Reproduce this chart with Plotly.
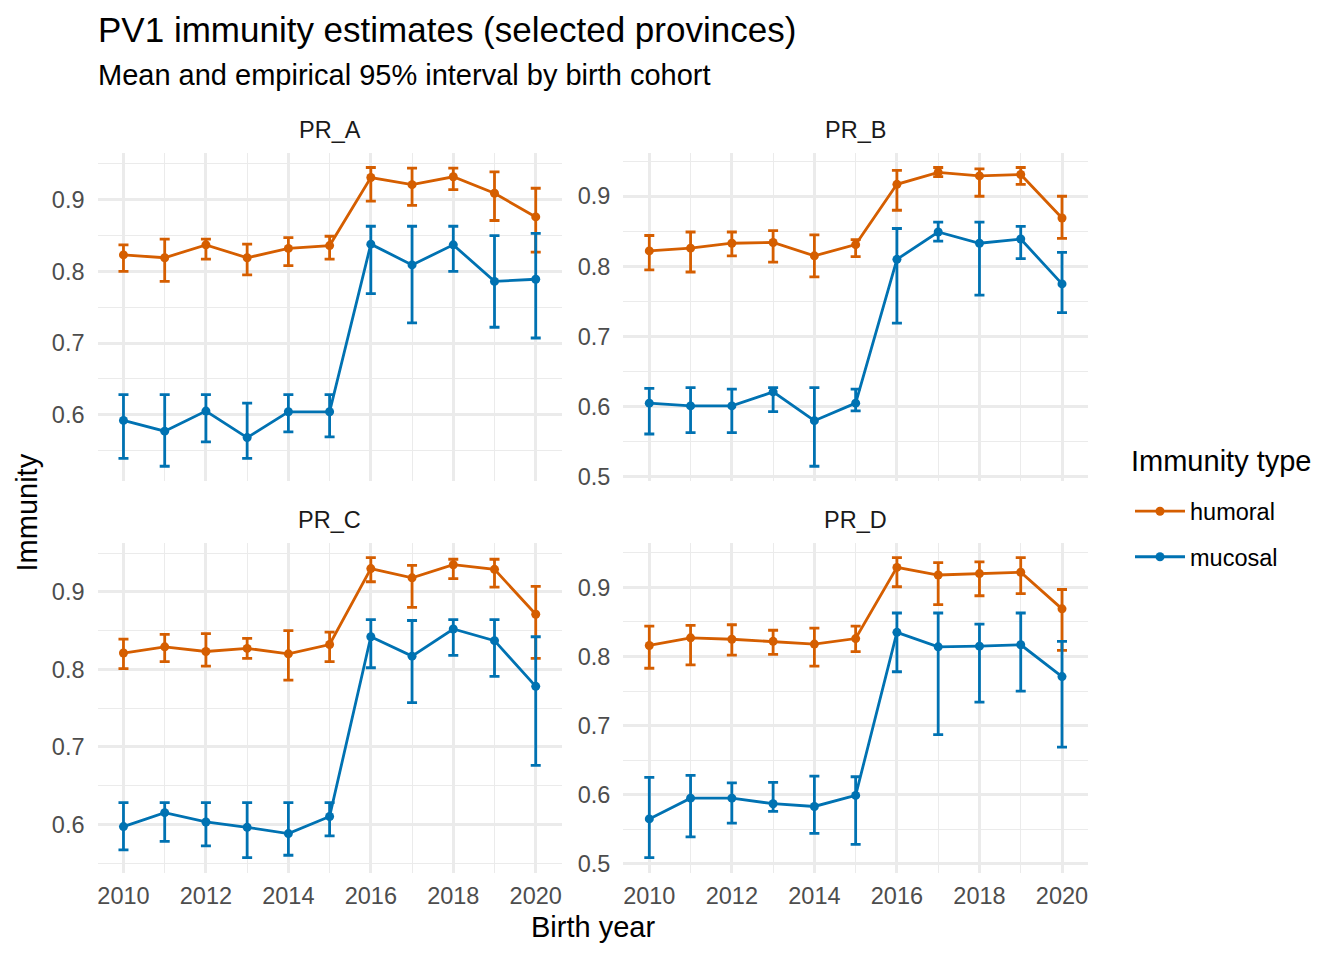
import plotly.graph_objects as go

# birth cohorts shared by all panels
years = [2010, 2011, 2012, 2013, 2014, 2015, 2016, 2017, 2018, 2019, 2020]
provinces = ["PR_A", "PR_B", "PR_C", "PR_D"]
types = ["humoral", "mucosal"]

# PR_A
a_hum_mean = [0.823, 0.819, 0.837, 0.819, 0.832, 0.836, 0.931, 0.921, 0.932, 0.909, 0.876]
a_hum_lo = [0.800, 0.786, 0.817, 0.795, 0.808, 0.817, 0.898, 0.892, 0.914, 0.871, 0.827]
a_hum_hi = [0.837, 0.845, 0.845, 0.838, 0.847, 0.849, 0.945, 0.944, 0.944, 0.939, 0.916]
a_muc_mean = [0.592, 0.577, 0.605, 0.568, 0.604, 0.604, 0.838, 0.809, 0.837, 0.786, 0.789]
a_muc_lo = [0.539, 0.528, 0.562, 0.539, 0.576, 0.569, 0.769, 0.728, 0.800, 0.722, 0.707]
a_muc_hi = [0.628, 0.628, 0.628, 0.616, 0.628, 0.628, 0.863, 0.863, 0.863, 0.850, 0.853]

# PR_B
b_hum_mean = [0.822, 0.826, 0.833, 0.834, 0.815, 0.831, 0.917, 0.934, 0.929, 0.931, 0.869]
b_hum_lo = [0.795, 0.792, 0.815, 0.806, 0.785, 0.814, 0.880, 0.928, 0.900, 0.917, 0.840]
b_hum_hi = [0.844, 0.849, 0.849, 0.851, 0.845, 0.838, 0.937, 0.941, 0.939, 0.941, 0.900]
b_muc_mean = [0.605, 0.601, 0.601, 0.621, 0.580, 0.605, 0.810, 0.849, 0.833, 0.839, 0.775]
b_muc_lo = [0.561, 0.563, 0.563, 0.593, 0.515, 0.594, 0.719, 0.836, 0.759, 0.811, 0.734]
b_muc_hi = [0.626, 0.627, 0.625, 0.627, 0.627, 0.625, 0.854, 0.863, 0.863, 0.857, 0.820]

# PR_C
c_hum_mean = [0.821, 0.829, 0.823, 0.827, 0.820, 0.832, 0.930, 0.918, 0.935, 0.929, 0.871]
c_hum_lo = [0.801, 0.810, 0.804, 0.814, 0.786, 0.810, 0.913, 0.880, 0.917, 0.906, 0.814]
c_hum_hi = [0.839, 0.845, 0.846, 0.840, 0.850, 0.848, 0.944, 0.934, 0.942, 0.942, 0.907]
c_muc_mean = [0.597, 0.615, 0.603, 0.596, 0.588, 0.610, 0.842, 0.817, 0.852, 0.837, 0.778]
c_muc_lo = [0.567, 0.578, 0.572, 0.557, 0.560, 0.585, 0.802, 0.757, 0.818, 0.791, 0.676]
c_muc_hi = [0.628, 0.628, 0.628, 0.628, 0.628, 0.628, 0.864, 0.863, 0.864, 0.864, 0.842]

# PR_D
d_hum_mean = [0.816, 0.827, 0.825, 0.822, 0.818, 0.826, 0.929, 0.918, 0.920, 0.922, 0.869]
d_hum_lo = [0.783, 0.788, 0.802, 0.803, 0.786, 0.807, 0.901, 0.875, 0.888, 0.891, 0.809]
d_hum_hi = [0.844, 0.845, 0.846, 0.838, 0.841, 0.844, 0.943, 0.936, 0.937, 0.943, 0.897]
d_muc_mean = [0.565, 0.595, 0.595, 0.587, 0.583, 0.599, 0.835, 0.814, 0.815, 0.817, 0.771]
d_muc_lo = [0.509, 0.539, 0.559, 0.576, 0.544, 0.528, 0.778, 0.687, 0.734, 0.750, 0.669]
d_muc_hi = [0.625, 0.628, 0.617, 0.618, 0.627, 0.626, 0.863, 0.863, 0.847, 0.863, 0.822]

series = {
    "PR_A": {"humoral": (a_hum_mean, a_hum_lo, a_hum_hi), "mucosal": (a_muc_mean, a_muc_lo, a_muc_hi)},
    "PR_B": {"humoral": (b_hum_mean, b_hum_lo, b_hum_hi), "mucosal": (b_muc_mean, b_muc_lo, b_muc_hi)},
    "PR_C": {"humoral": (c_hum_mean, c_hum_lo, c_hum_hi), "mucosal": (c_muc_mean, c_muc_lo, c_muc_hi)},
    "PR_D": {"humoral": (d_hum_mean, d_hum_lo, d_hum_hi), "mucosal": (d_muc_mean, d_muc_lo, d_muc_hi)},
}

colors = {"humoral": "#D55E00", "mucosal": "#0072B2"}

# the capture comes out slightly squeezed vertically, so draw a bit taller
# and place things as fractions of the 960px target height
W, H = 1344, 968
REF_W, REF_H = 1344, 960
FONT = "Liberation Sans, Arial, sans-serif"
GRID = "#EBEBEB"
TICK = "#4D4D4D"


def px(x):
    return x / REF_W


def py(y):
    return 1 - y / REF_H


# panel boxes in target pixels (left, right) / (top, bottom)
col_x = [(97.5, 561.7), (623.3, 1088.0)]
row_y = [(152.7, 481.7), (543.3, 873.5)]

fig = go.Figure()

for i, prov in enumerate(provinces):
    r, c = divmod(i, 2)
    n = i + 1
    xa = "x" if n == 1 else f"x{n}"
    ya = "y" if n == 1 else f"y{n}"
    lows, highs = [], []
    for t in types:
        mean, lo, hi = series[prov][t]
        lows += lo
        highs += hi
        fig.add_trace(go.Scatter(
            x=years, y=mean, mode="lines+markers", name=t,
            legendgroup=t, showlegend=(i == 0),
            line=dict(color=colors[t], width=2.8),
            marker=dict(color=colors[t], size=9),
            error_y=dict(type="data", symmetric=False,
                         array=[h - m for h, m in zip(hi, mean)],
                         arrayminus=[m - l for m, l in zip(mean, lo)],
                         color=colors[t], thickness=2.8, width=5),
            xaxis=xa, yaxis=ya,
        ))

    # free y scale per panel, ggplot-like 5% expansion
    ymin, ymax = min(lows), max(highs)
    pad = 0.05 * (ymax - ymin)
    x0, x1 = col_x[c]
    y0, y1 = row_y[r]
    fig.layout[("xaxis" if n == 1 else f"xaxis{n}")] = dict(
        domain=[px(x0), px(x1)], anchor=ya, range=[2009.37, 2020.63],
        tick0=2010, dtick=2, showticklabels=(r == 1), ticks="",
        showgrid=True, gridcolor=GRID, gridwidth=2.8, zeroline=False, showline=False,
        minor=dict(dtick=1, showgrid=True, gridcolor=GRID, gridwidth=1.4),
        tickfont=dict(family=FONT, size=23.5, color=TICK), ticklabelstandoff=7,
    )
    fig.layout[("yaxis" if n == 1 else f"yaxis{n}")] = dict(
        domain=[py(y1), py(y0)], anchor=xa, range=[ymin - pad, ymax + pad],
        tick0=0, dtick=0.1, tickformat=".1f", ticks="",
        showgrid=True, gridcolor=GRID, gridwidth=2.8, zeroline=False, showline=False,
        minor=dict(dtick=0.05, showgrid=True, gridcolor=GRID, gridwidth=1.4),
        tickfont=dict(family=FONT, size=23.5, color=TICK), ticklabelstandoff=12,
    )
    fig.add_annotation(text=prov, x=px((x0 + x1) / 2), y=py(y0 - 22.7),
                       xref="paper", yref="paper", showarrow=False,
                       xanchor="center", yanchor="middle",
                       font=dict(family=FONT, size=23.5, color="#1A1A1A"))

fig.add_annotation(text="PV1 immunity estimates (selected provinces)", x=px(96), y=py(30),
                   xref="paper", yref="paper", showarrow=False, xanchor="left", yanchor="middle",
                   font=dict(family=FONT, size=35, color="black"))
fig.add_annotation(text="Mean and empirical 95% interval by birth cohort", x=px(96), y=py(75),
                   xref="paper", yref="paper", showarrow=False, xanchor="left", yanchor="middle",
                   font=dict(family=FONT, size=29, color="black"))
fig.add_annotation(text="Birth year", x=px(592.7), y=py(928),
                   xref="paper", yref="paper", showarrow=False, xanchor="center", yanchor="middle",
                   font=dict(family=FONT, size=29, color="black"))
fig.add_annotation(text="Immunity", x=px(27), y=py(513), textangle=-90,
                   xref="paper", yref="paper", showarrow=False, xanchor="center", yanchor="middle",
                   font=dict(family=FONT, size=29, color="black"))
fig.add_annotation(text="Immunity type", x=px(1129), y=py(461),
                   xref="paper", yref="paper", showarrow=False, xanchor="left", yanchor="middle",
                   font=dict(family=FONT, size=29, color="black"))

fig.update_layout(
    width=W, height=H,
    margin=dict(l=0, r=0, t=0, b=0),
    paper_bgcolor="white", plot_bgcolor="white",
    legend=dict(
        font=dict(family=FONT, size=23.5, color="black"),
        x=px(1130), y=py(535), xanchor="left", yanchor="middle",
        traceorder="grouped", tracegroupgap=12, itemwidth=50,
        bgcolor="rgba(0,0,0,0)",
    ),
)

# drop the default page margin so the figure starts at the window corner
fig.write_html("out.html", config={"displayModeBar": False},
               post_script="document.body.style.margin='0';")
